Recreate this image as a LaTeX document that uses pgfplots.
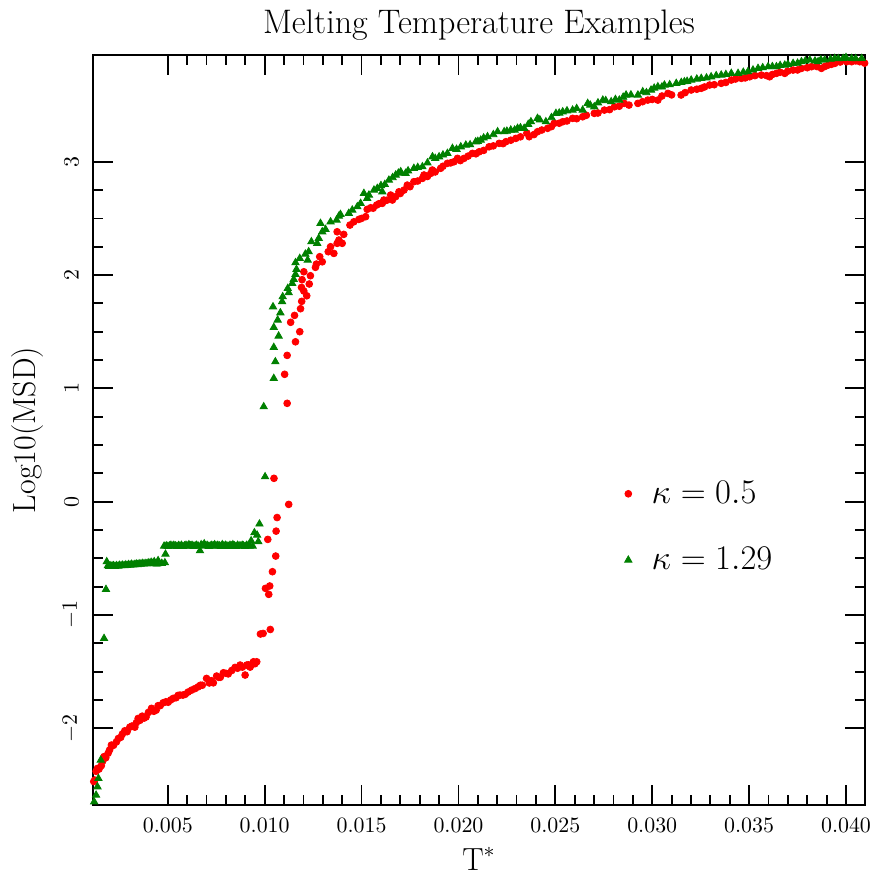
\documentclass[border=0pt]{standalone}
\usepackage{pgfplots}
\pgfplotsset{compat=1.18}
\definecolor{mplgreen}{RGB}{0,128,0}
\begin{document}
\begin{tikzpicture}
\useasboundingbox (-46.5pt,-35pt) rectangle (388.5pt,402.5pt);
\begin{axis}[
  scale only axis,
  width=386pt, height=375pt,
  xmin=0.00114, xmax=0.04098,
  ymin=-2.677, ymax=3.942,
  xtick={0.005,0.010,0.015,0.020,0.025,0.030,0.035,0.040},
  minor x tick num=4,
  ytick={-2,-1,0,1,2,3},
  minor y tick num=3,
  scaled x ticks=false,
  tick align=inside,
  major tick length=10pt,
  minor tick length=5pt,
  every tick/.style={black, line width=0.9pt},
  axis line style={line width=1.3pt},
  tick label style={font=\fontsize{10.5}{12}\selectfont},
  xticklabel style={/pgf/number format/.cd, fixed, fixed zerofill, precision=3, /tikz/.cd, yshift=-3pt},
  yticklabel style={rotate=90, anchor=south, inner ysep=7pt},
  every axis title shift=0pt,
  title={Melting Temperature Examples},
  title style={font=\fontsize{17}{20}\selectfont, at={(axis description cs:0.5,1.0293)}, anchor=base},
  xlabel={T$^*$},
  xlabel style={font=\fontsize{16}{19}\selectfont, at={(axis description cs:0.5,-0.0867)}, anchor=base},
  ylabel={Log10(MSD)},
  ylabel style={font=\fontsize{16}{19}\selectfont, at={(axis description cs:-0.0751,0.5)}, rotate=0, anchor=base},
  legend style={draw=none, fill=none, at={(rel axis cs:0.66,0.443)}, anchor=north west,
    font=\fontsize{16}{19}\selectfont, row sep=16.5pt},
  legend cell align=left,
  legend image code/.code={\draw[#1] plot coordinates {(0pt,0pt)}; \path (-9.5pt,0pt) (9.5pt,0pt);},
]
\addplot[only marks, mark=*, color=red, mark size=1.7pt] coordinates {
(0.00118,-2.47) (0.00123,-2.457) (0.00130,-2.38) (0.00137,-2.354) (0.00145,-2.36)
(0.00157,-2.33) (0.00164,-2.29) (0.00171,-2.25) (0.00180,-2.26) (0.00192,-2.22)
(0.00200,-2.19) (0.00209,-2.148) (0.00220,-2.15) (0.00235,-2.12) (0.00245,-2.09)
(0.00257,-2.08) (0.00266,-2.05) (0.00278,-2.022) (0.00290,-2.03) (0.00304,-1.99)
(0.00315,-1.98) (0.00330,-1.99) (0.00338,-1.95) (0.00347,-1.913) (0.00356,-1.93)
(0.00368,-1.893) (0.00378,-1.91) (0.00388,-1.90) (0.00400,-1.86) (0.00416,-1.824)
(0.00428,-1.85) (0.00440,-1.84) (0.00450,-1.80) (0.00461,-1.80) (0.00476,-1.775)
(0.00490,-1.766) (0.00502,-1.77) (0.00515,-1.75) (0.00528,-1.736) (0.00543,-1.73)
(0.00553,-1.71) (0.00563,-1.707) (0.00578,-1.707) (0.00590,-1.70) (0.00605,-1.68)
(0.00623,-1.663) (0.00640,-1.65) (0.00657,-1.634) (0.00668,-1.62) (0.00678,-1.62)
(0.00700,-1.56) (0.00714,-1.60) (0.00725,-1.58) (0.00735,-1.599) (0.00752,-1.539)
(0.00762,-1.55) (0.00771,-1.55) (0.00787,-1.51) (0.00800,-1.515) (0.00812,-1.52)
(0.00830,-1.49) (0.00847,-1.463) (0.00860,-1.47) (0.00873,-1.442) (0.00885,-1.46)
(0.00899,-1.53) (0.00907,-1.442) (0.00916,-1.44) (0.00925,-1.46) (0.00931,-1.44)
(0.00942,-1.413) (0.00950,-1.43) (0.00959,-1.413)
(0.00978,-1.168) (0.00992,-1.163) (0.01029,-1.128) (0.01004,-0.765) (0.01026,-0.744)
(0.01021,-0.818) (0.01040,-0.618) (0.01057,-0.48) (0.01059,-0.26) (0.01064,-0.14)
(0.01016,-0.333) (0.01048,0.206) (0.01124,-0.024) (0.01116,0.868) (0.01103,1.124)
(0.01116,1.291) (0.01159,1.411) (0.01181,1.5) (0.01134,1.583) (0.01154,1.644)
(0.01185,1.703) (0.01191,1.768) (0.01217,1.817) (0.01202,1.859) (0.01190,1.891)
(0.01230,1.921) (0.01193,1.959) (0.01236,1.994) (0.01202,2.029) (0.01262,2.068)
(0.01267,2.097) (0.01297,2.117) (0.01284,2.162) (0.01328,2.206) (0.01357,2.191)
(0.01340,2.25) (0.01374,2.28) (0.01400,2.28) (0.01383,2.309) (0.01408,2.359)
(0.01374,2.382) (0.01440,2.441) (0.01460,2.47) (0.01486,2.491) (0.01521,2.515)
(0.01529,2.58) (0.01547,2.594) (0.01578,2.618) (0.01607,2.633) (0.01615,2.662)
(0.01659,2.662) (0.01676,2.692) (0.01650,2.706) (0.01693,2.735) (0.01719,2.75)
(0.01736,2.794) (0.01770,2.824) (0.01814,2.853) (0.01822,2.883) (0.01857,2.897)
(0.01865,2.927) (0.01908,2.942) (0.01943,2.986) (0.01977,3.0) (0.01995,3.03)
(0.02029,3.03) (0.02072,3.074) (0.02107,3.088) (0.02158,3.132) (0.02210,3.162)
(0.02245,3.177) (0.02296,3.206) (0.02365,3.221) (0.02353,3.253) (0.02408,3.265)
(0.02460,3.295) (0.02494,3.339) (0.02538,3.353) (0.02589,3.383) (0.02641,3.397)
(0.02701,3.427) (0.02753,3.456) (0.02805,3.485) (0.02856,3.515) (0.02926,3.515)
(0.02977,3.544) (0.03029,3.544) (0.03081,3.603) (0.03149,3.589) (0.03201,3.633)
(0.03253,3.648) (0.03296,3.677) (0.03356,3.692) (0.03408,3.721) (0.03460,3.736)
(0.03503,3.75) (0.03563,3.765) (0.03606,3.75) (0.03641,3.780) (0.03684,3.780)
(0.03727,3.809) (0.03770,3.824) (0.03822,3.839) (0.03873,3.824) (0.03908,3.853)
(0.03942,3.868) (0.04003,3.883) (0.04029,3.883) (0.04071,3.883) (0.04096,3.87)
(0.01500,2.50) (0.01560,2.59) (0.01590,2.63) (0.01630,2.66) (0.01700,2.72)
(0.01750,2.78) (0.01790,2.83) (0.01840,2.87) (0.01880,2.91) (0.01920,2.96)
(0.01960,2.99) (0.02010,3.01) (0.02050,3.05) (0.02090,3.07) (0.02130,3.10)
(0.02180,3.14) (0.02230,3.16) (0.02270,3.19) (0.02320,3.22) (0.02390,3.24)
(0.02430,3.28) (0.02480,3.31) (0.02520,3.34) (0.02560,3.36) (0.02610,3.38)
(0.02660,3.41) (0.02720,3.43) (0.02780,3.46) (0.02830,3.49) (0.02880,3.50)
(0.02950,3.53) (0.03000,3.55) (0.03050,3.58) (0.03100,3.59) (0.03170,3.61)
(0.03230,3.64) (0.03270,3.66) (0.03320,3.68) (0.03380,3.70) (0.03430,3.73)
(0.03480,3.74) (0.03530,3.76) (0.03590,3.76) (0.03620,3.77) (0.03660,3.79)
(0.03700,3.80) (0.03750,3.81) (0.03800,3.83) (0.03850,3.84) (0.03890,3.84)
(0.03925,3.86) (0.03970,3.88) (0.04050,3.89)
};
\addlegendentry{$\kappa=0.5$}
\addplot[only marks, mark=triangle*, color=mplgreen, mark size=2.1pt] coordinates {
(0.00120,-2.649) (0.00130,-2.59) (0.00137,-2.516) (0.00142,-2.443) (0.00154,-2.281)
(0.00171,-1.207) (0.00181,-0.774) (0.00185,-0.53)
(0.00191,-0.565) (0.00197,-0.57) (0.00202,-0.565) (0.00208,-0.57) (0.00213,-0.568)
(0.00220,-0.565) (0.00228,-0.57) (0.00236,-0.565) (0.00244,-0.568) (0.00251,-0.562)
(0.00259,-0.565) (0.00267,-0.56) (0.00275,-0.565) (0.00283,-0.558) (0.00290,-0.562)
(0.00298,-0.555) (0.00306,-0.56) (0.00313,-0.552) (0.00321,-0.558) (0.00329,-0.555)
(0.00337,-0.55) (0.00344,-0.556) (0.00352,-0.548) (0.00360,-0.552) (0.00368,-0.545)
(0.00376,-0.55) (0.00383,-0.545) (0.00391,-0.548) (0.00399,-0.54) (0.00407,-0.545)
(0.00414,-0.535) (0.00422,-0.545) (0.00430,-0.53) (0.00437,-0.548) (0.00445,-0.55)
(0.00450,-0.52) (0.00469,-0.544) (0.00485,-0.539) (0.00488,-0.463) (0.00481,-0.392)
(0.00492,-0.39) (0.00500,-0.395) (0.00508,-0.39) (0.00516,-0.385) (0.00523,-0.393)
(0.00531,-0.385) (0.00539,-0.39) (0.00547,-0.395) (0.00555,-0.388) (0.00562,-0.392)
(0.00570,-0.385) (0.00578,-0.395) (0.00586,-0.39) (0.00594,-0.385) (0.00601,-0.392)
(0.00609,-0.38) (0.00617,-0.39) (0.00625,-0.385) (0.00633,-0.395) (0.00641,-0.39)
(0.00648,-0.385) (0.00656,-0.39) (0.00666,-0.433) (0.00672,-0.38) (0.00680,-0.39)
(0.00688,-0.372) (0.00695,-0.39) (0.00703,-0.385) (0.00711,-0.395) (0.00719,-0.39)
(0.00727,-0.385) (0.00735,-0.39) (0.00742,-0.38) (0.00750,-0.392) (0.00758,-0.385)
(0.00766,-0.39) (0.00774,-0.395) (0.00781,-0.38) (0.00789,-0.39) (0.00797,-0.385)
(0.00805,-0.39) (0.00813,-0.395) (0.00821,-0.385) (0.00828,-0.39) (0.00836,-0.38)
(0.00844,-0.39) (0.00852,-0.395) (0.00860,-0.385) (0.00868,-0.39) (0.00876,-0.392)
(0.00884,-0.385) (0.00891,-0.39) (0.00899,-0.395) (0.00907,-0.385) (0.00915,-0.39)
(0.00922,-0.392) (0.00930,-0.345) (0.00938,-0.392) (0.00947,-0.274) (0.00961,-0.295)
(0.00967,-0.353) (0.00973,-0.197) (0.01002,0.22) (0.00995,0.838) (0.01047,1.088)
(0.01055,1.235) (0.01047,1.362) (0.01072,1.462) (0.01047,1.538) (0.01067,1.603)
(0.01081,1.667) (0.01043,1.72) (0.01090,1.765) (0.01093,1.809) (0.01124,1.844)
(0.01119,1.882) (0.01142,1.926) (0.01150,1.962) (0.01159,2.006) (0.01164,2.05)
(0.01159,2.109) (0.01181,2.147) (0.01222,2.132) (0.01210,2.185) (0.01227,2.206)
(0.01241,2.294) (0.01271,2.28) (0.01279,2.324) (0.01297,2.382) (0.01314,2.403)
(0.01288,2.456) (0.01340,2.47) (0.01371,2.485) (0.01383,2.52) (0.01391,2.535)
(0.01434,2.545) (0.01452,2.574) (0.01478,2.603) (0.01495,2.633) (0.01512,2.721)
(0.01529,2.677) (0.01538,2.706) (0.01564,2.75) (0.01581,2.765) (0.01607,2.735)
(0.01641,2.838) (0.01676,2.883) (0.01702,2.912) (0.01727,2.898) (0.01770,2.942)
(0.01814,2.956) (0.01866,3.044) (0.01900,3.044) (0.01943,3.074) (0.01969,3.118)
(0.02012,3.132) (0.02038,3.147) (0.02089,3.176) (0.02115,3.191) (0.02150,3.221)
(0.02202,3.265) (0.02236,3.265) (0.02270,3.280) (0.02305,3.295) (0.02339,3.295)
(0.02374,3.353) (0.02408,3.383) (0.02451,3.353) (0.02503,3.427) (0.02538,3.441)
(0.02589,3.456) (0.02641,3.456) (0.02667,3.515) (0.02701,3.485) (0.02745,3.544)
(0.02788,3.530) (0.02830,3.544) (0.02865,3.589) (0.02926,3.589) (0.02951,3.618)
(0.02994,3.633) (0.03029,3.662) (0.03063,3.677) (0.03124,3.692) (0.03166,3.706)
(0.03201,3.721) (0.03253,3.736) (0.03304,3.75) (0.03356,3.765) (0.03408,3.780)
(0.03443,3.780) (0.03494,3.795) (0.03546,3.824) (0.03598,3.839) (0.03641,3.839)
(0.03684,3.853) (0.03727,3.868) (0.03770,3.883) (0.03813,3.898) (0.03856,3.883)
(0.03890,3.898) (0.03942,3.912) (0.03985,3.912) (0.04029,3.912) (0.04081,3.912)
(0.01600,2.79) (0.01620,2.80) (0.01660,2.86) (0.01690,2.90) (0.01740,2.92)
(0.01790,2.95) (0.01840,2.99) (0.01880,3.03) (0.01920,3.06) (0.01990,3.11)
(0.02060,3.15) (0.02100,3.18) (0.02130,3.21) (0.02180,3.24) (0.02250,3.27)
(0.02290,3.28) (0.02320,3.30) (0.02360,3.33) (0.02420,3.37) (0.02480,3.39)
(0.02520,3.43) (0.02560,3.45) (0.02610,3.47) (0.02680,3.50) (0.02720,3.52)
(0.02760,3.54) (0.02810,3.55) (0.02850,3.57) (0.02890,3.59) (0.02970,3.61)
(0.03010,3.65) (0.03050,3.66) (0.03090,3.68) (0.03150,3.70) (0.03180,3.71)
(0.03230,3.73) (0.03280,3.74) (0.03330,3.76) (0.03380,3.77) (0.03470,3.79)
(0.03520,3.81) (0.03570,3.83) (0.03620,3.84) (0.03660,3.85) (0.03700,3.86)
(0.03750,3.87) (0.03790,3.89) (0.03840,3.89) (0.03870,3.90) (0.03920,3.905)
(0.03960,3.91) (0.04000,3.92) (0.04050,3.91)
};
\addlegendentry{$\kappa=1.29$}
\end{axis}
\end{tikzpicture}
\end{document}
